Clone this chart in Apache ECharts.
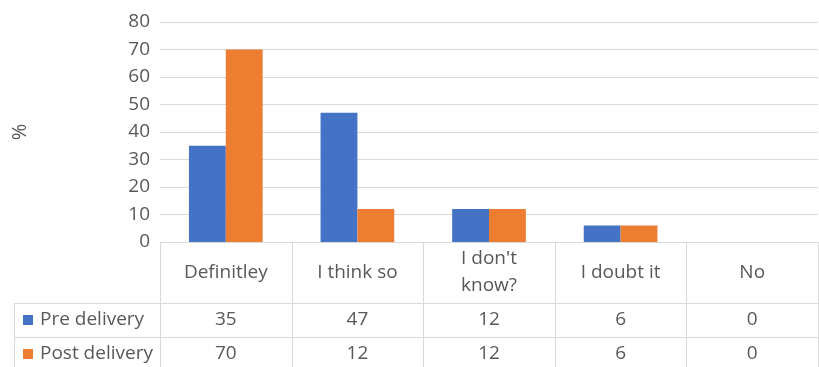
<!DOCTYPE html>
<html><head><meta charset="utf-8">
<script src="https://cdn.jsdelivr.net/npm/echarts@6/dist/echarts.min.js"></script>
<style>html,body{margin:0;padding:0;background:#fff}#c{width:819px;height:367px}</style>
</head><body><div id="c"></div>
<script>
const categories = ['Definitley', 'I think so', "I don't\nknow?", 'I doubt it', 'No'];
const seriesNames = ['Pre delivery', 'Post delivery'];
const preDelivery = [35, 47, 12, 6, 0];
const postDelivery = [70, 12, 12, 6, 0];
const yMin = 0, yMax = 80, yInterval = 10;
const colors = ['#4472C4', '#ED7D31'];
const FONT = '"Open Sans"';
const FS = 19;
const TXT = '#595959';
const LINE = '#D9D9D9';

const chart = echarts.init(document.getElementById('c'), null, {renderer: 'canvas'});
chart.setOption({
  animation: false,
  grid: {left: 160, right: 1, top: 22, bottom: 125},
  xAxis: {
    type: 'category', data: categories,
    axisLabel: {show: false}, axisTick: {show: false},
    axisLine: {lineStyle: {color: LINE, width: 1}}
  },
  yAxis: {
    type: 'value', min: yMin, max: yMax, interval: yInterval,
    axisLine: {show: false}, axisTick: {show: false},
    axisLabel: {fontSize: FS, color: TXT, fontFamily: FONT, margin: 10},
    splitLine: {lineStyle: {color: LINE, width: 1}},
    name: '%', nameLocation: 'middle', nameGap: 130, nameRotate: 90,
    nameTextStyle: {fontSize: 20, color: TXT, fontFamily: FONT}
  },
  series: [
    {type: 'bar', name: seriesNames[0], data: preDelivery, barGap: '0%', barCategoryGap: '44%', itemStyle: {color: colors[0]}},
    {type: 'bar', name: seriesNames[1], data: postDelivery, barGap: '0%', barCategoryGap: '44%', itemStyle: {color: colors[1]}}
  ]
});

// Data table below the plot, positioned from the axis scales
(function () {
  const c0 = chart.convertToPixel({xAxisIndex: 0}, 0);
  const c1 = chart.convertToPixel({xAxisIndex: 0}, 1);
  const cw = c1 - c0;
  const tTop = chart.convertToPixel({yAxisIndex: 0}, 0);
  const headerH = 61, rowH = 34;
  const tableLeft = 14, tableRight = c0 - cw / 2 + cw * categories.length;
  const tBottom = 367;
  const g = [];
  function line(x1, y1, x2, y2) {
    g.push({type: 'line', silent: true, shape: {x1, y1, x2, y2}, style: {stroke: LINE, lineWidth: 1}});
  }
  function text(t, x, y, align) {
    g.push({type: 'text', silent: true, x, y, style: {text: t, align: align || 'center', verticalAlign: 'middle', fontSize: FS, fontFamily: FONT, fill: TXT, lineHeight: 27}});
  }
  for (let i = 0; i <= categories.length; i++) {
    const x = Math.round(c0 - cw / 2 + i * cw) + 0.5;
    line(x, tTop, x, tBottom);
  }
  line(tableLeft + 0.5, tTop + headerH, tableLeft + 0.5, tBottom);
  const r1 = Math.round(tTop + headerH) + 0.5, r2 = Math.round(tTop + headerH + rowH) + 0.5;
  line(tableLeft, r1, tableRight, r1);
  line(tableLeft, r2, tableRight, r2);
  const rows = [preDelivery, postDelivery];
  categories.forEach((cat, i) => {
    const cx = c0 + i * cw;
    text(cat, cx, tTop + headerH / 2);
    rows.forEach((r, j) => text(String(r[i]), cx, tTop + headerH + rowH * j + rowH / 2));
  });
  seriesNames.forEach((n, j) => {
    const cy = tTop + headerH + rowH * j + rowH / 2;
    g.push({type: 'rect', silent: true, shape: {x: 23, y: Math.round(cy - 5), width: 10, height: 10}, style: {fill: colors[j]}});
    text(n, 40, cy, 'left');
  });
  chart.setOption({graphic: g});
})();
</script></body></html>
